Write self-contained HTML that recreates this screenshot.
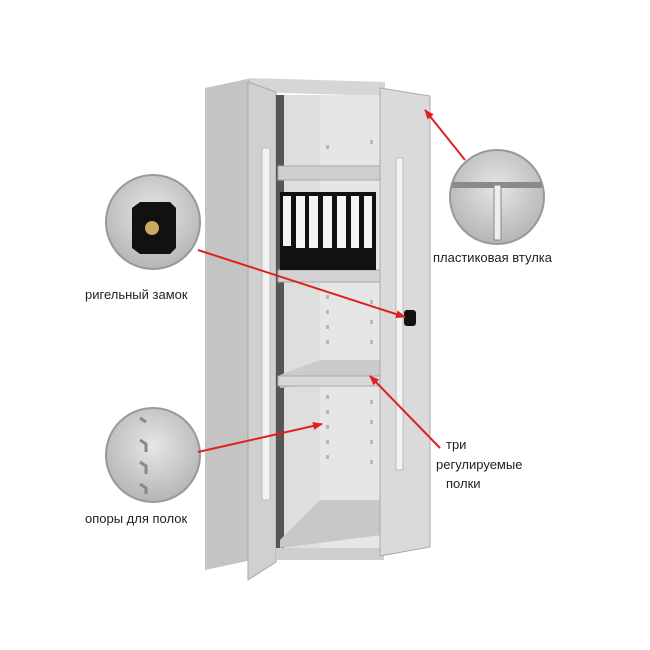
<!DOCTYPE html>
<html><head><meta charset="utf-8"><style>
html,body{margin:0;padding:0;background:#fff}
svg{display:block}
text{font-family:"Liberation Sans",sans-serif;font-size:13px;fill:#222}
</style></head><body>
<svg width="650" height="650" viewBox="0 0 650 650">
<defs>
<radialGradient id="cg" cx="50%" cy="40%" r="60%"><stop offset="0" stop-color="#e6e6e6"/><stop offset="1" stop-color="#b5b5b5"/></radialGradient>
<marker id="ah" markerWidth="10" markerHeight="8" refX="9" refY="4" orient="auto" markerUnits="userSpaceOnUse"><path d="M0,0 L10,4 L0,8 Z" fill="#e02020"/></marker>
</defs>
<!-- left side -->
<polygon points="205,88 252,78 252,560 205,570" fill="#c4c4c4"/>
<polygon points="250,78 385,82 385,96 250,92" fill="#d6d6d6"/>
<!-- left door -->
<polygon points="248,82 276,92 276,562 248,580" fill="#d0d0d0" stroke="#aaa" stroke-width="1"/>
<rect x="262" y="148" width="8" height="352" fill="#f2f2f2" stroke="#bbb"/>
<!-- interior -->
<rect x="276" y="95" width="106" height="455" fill="#dedede"/>
<rect x="276" y="95" width="8" height="455" fill="#555"/>
<rect x="320" y="95" width="62" height="455" fill="#e6e6e6"/>
<!-- shelves -->
<rect x="278" y="166" width="104" height="14" fill="#cfcfcf" stroke="#aaa"/>
<rect x="278" y="270" width="104" height="12" fill="#d2d2d2" stroke="#aaa"/>
<polygon points="280,375 320,360 382,360 382,378 280,388" fill="#cbcbcb"/>
<rect x="278" y="376" width="104" height="10" fill="#d8d8d8" stroke="#aaa"/>
<polygon points="280,540 320,500 382,500 382,535 280,548" fill="#c8c8c8"/>
<!-- binders -->
<g>
<rect x="280" y="192" width="96" height="78" fill="#111"/>
<rect x="283" y="196" width="8" height="50" fill="#f4f4f4"/>
<rect x="296" y="196" width="9" height="52" fill="#f4f4f4"/>
<rect x="309" y="196" width="9" height="52" fill="#f4f4f4"/>
<rect x="323" y="196" width="9" height="52" fill="#f4f4f4"/>
<rect x="337" y="196" width="9" height="52" fill="#f4f4f4"/>
<rect x="351" y="196" width="8" height="52" fill="#f4f4f4"/>
<rect x="364" y="196" width="8" height="52" fill="#f4f4f4"/>
</g>
<!-- holes -->
<g fill="#b8b8b8">
<rect x="326" y="145" width="3" height="4"/><rect x="326" y="295" width="3" height="4"/><rect x="326" y="310" width="3" height="4"/><rect x="326" y="325" width="3" height="4"/><rect x="326" y="340" width="3" height="4"/>
<rect x="326" y="395" width="3" height="4"/><rect x="326" y="410" width="3" height="4"/><rect x="326" y="425" width="3" height="4"/><rect x="326" y="440" width="3" height="4"/><rect x="326" y="455" width="3" height="4"/>
<rect x="370" y="140" width="3" height="4"/><rect x="370" y="300" width="3" height="4"/><rect x="370" y="320" width="3" height="4"/><rect x="370" y="340" width="3" height="4"/><rect x="370" y="400" width="3" height="4"/><rect x="370" y="420" width="3" height="4"/><rect x="370" y="440" width="3" height="4"/><rect x="370" y="460" width="3" height="4"/>
</g>
<rect x="276" y="548" width="108" height="12" fill="#cfcfcf"/>
<!-- right door -->
<polygon points="380,88 430,96 430,547 380,556" fill="#dadada" stroke="#aaa"/>
<rect x="396" y="158" width="7" height="312" fill="#f2f2f2" stroke="#bbb"/>
<rect x="404" y="310" width="12" height="16" rx="3" fill="#111"/>
<!-- circles -->
<circle cx="497" cy="197" r="47" fill="url(#cg)" stroke="#999" stroke-width="2"/>
<rect x="452" y="182" width="90" height="6" fill="#8a8a8a"/>
<rect x="494" y="185" width="7" height="55" fill="#eee" stroke="#888"/>
<circle cx="153" cy="222" r="47" fill="url(#cg)" stroke="#999" stroke-width="2"/>
<polygon points="132,208 140,202 170,202 176,208 176,248 170,254 140,254 132,248" fill="#111"/>
<circle cx="152" cy="228" r="7" fill="#c9a860"/>
<circle cx="153" cy="455" r="47" fill="url(#cg)" stroke="#999" stroke-width="2"/>
<g fill="none" stroke="#888" stroke-width="3">
<path d="M140,440 l6,4 v8"/><path d="M140,462 l6,4 v8"/><path d="M140,484 l6,4 v6"/><path d="M140,418 l6,4"/>
</g>
<!-- arrows -->
<g stroke="#e02020" stroke-width="2" fill="none" marker-end="url(#ah)">
<line x1="465" y1="160" x2="425" y2="110"/>
<line x1="198" y1="250" x2="405" y2="317"/>
<line x1="198" y1="452" x2="322" y2="424"/>
<line x1="440" y1="448" x2="370" y2="376"/>
</g>
<!-- labels -->
<text x="433" y="262">пластиковая втулка</text>
<text x="85" y="299">ригельный замок</text>
<text x="85" y="523">опоры для полок</text>
<text x="446" y="449">три</text>
<text x="436" y="469">регулируемые</text>
<text x="446" y="488">полки</text>
</svg>
</body></html>
